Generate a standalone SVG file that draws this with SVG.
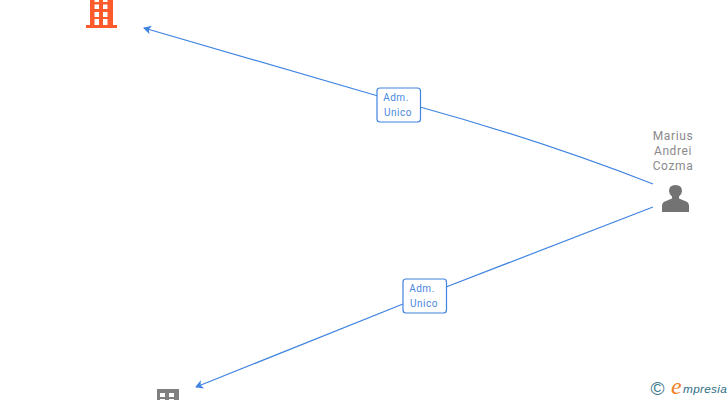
<svg xmlns="http://www.w3.org/2000/svg" width="728" height="400" viewBox="0 0 728 400">
<style>
.edge{fill:none;stroke:#3f84e0;stroke-width:1.2}
.box{fill:#fff;stroke:#3f84e0;stroke-width:1.2}
.lbl{font:10px Roboto,"Liberation Sans",sans-serif;fill:#4a88de;letter-spacing:.5px;text-anchor:middle}
.name{font:12px Roboto,"Liberation Sans",sans-serif;fill:#8a8a8a;letter-spacing:.6px;text-anchor:middle}
</style>
<defs><marker id="arrow" markerWidth="10" markerHeight="10" refX="1" refY="4.500" orient="auto" markerUnits="userSpaceOnUse"><path d="M0 4.500L8 0L6 4.500L8 9Z" fill="#3f84e0"/></marker></defs>
<rect width="728" height="400" fill="#fff"/>
<g id="connectors">
<path class="edge" marker-start="url(#arrow)" d="M144 28L378 96"/>
<path class="edge" d="M420 107Q540 140 653 184"/>
<path class="edge" marker-start="url(#arrow)" d="M196 387L403 304"/>
<path class="edge" d="M446 287L653 207"/>
</g>
<g id="edge-label-1"><rect class="box" x="377" y="88" width="43.500" height="34" rx="3"/><text class="lbl" x="396" y="101">Adm.</text><text class="lbl" x="398" y="116">Unico</text></g>
<g id="edge-label-2"><rect class="box" x="403" y="279" width="43.500" height="34" rx="3"/><text class="lbl" x="422" y="292">Adm.</text><text class="lbl" x="424" y="307">Unico</text></g>
<g id="node-company-orange">
<path fill="#ff5a2c" fill-rule="evenodd" d="M86 25H90V0H113V25H117V28H86ZM94.500 0V2H99V0ZM103 0V2H107.500V0ZM94.500 4.500V9H99V4.500ZM103 4.500V9H107.500V4.500ZM94.500 12V17H99V12ZM103 12V17H107.500V12ZM94.500 19V25H99V19ZM103 19V25H107.500V19Z"/>
</g>
<g id="node-person">
<text class="name" x="673" y="140">Marius</text><text class="name" x="673" y="155">Andrei</text><text class="name" x="673" y="170">Cozma</text>
<path fill="#737373" d="M662 212V206Q662 202 666 201L672 198.500V196.500Q669 194 669 191Q669 185 675.500 185Q682 185 682 191Q682 194 679 196.500V198.500L685 201Q689 202 689 206V212Z"/>
</g>
<g id="node-company-gray">
<path fill="#808080" fill-rule="evenodd" d="M157 389H179V400H157ZM160 393V397H165V393ZM169 393V397H174V393ZM160 399V400H165V399ZM169 399V400H174V399Z"/>
</g>
<g id="watermark">
<text x="657.500" y="395" font-family="Liberation Sans,sans-serif" font-size="19" fill="#3d7a8c" text-anchor="middle">©</text>
<text x="671" y="394" font-family="Liberation Serif,serif" font-style="italic" font-size="24" fill="#f08020">e</text>
<text x="683" y="393" font-family="Liberation Sans,sans-serif" font-style="italic" font-size="11.800" fill="#2f6f85" letter-spacing=".3">mpresia</text>
</g>
</svg>
